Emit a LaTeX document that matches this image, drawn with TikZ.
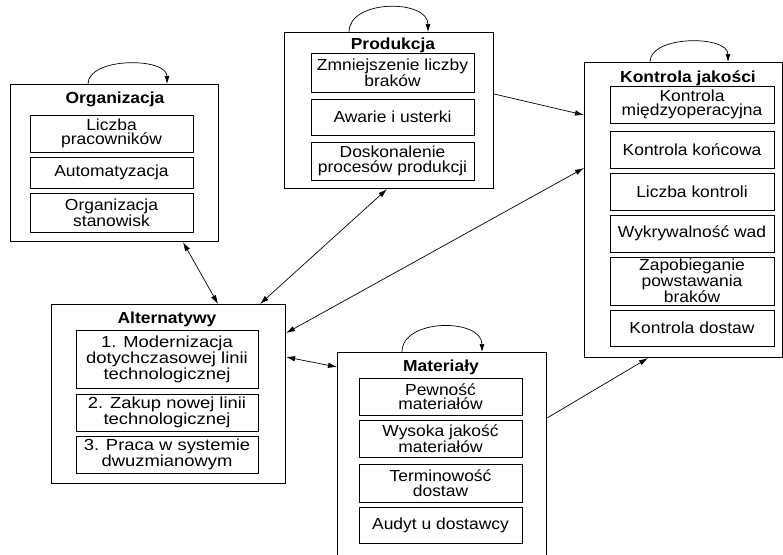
\documentclass[tikz,border=0pt]{standalone}
\usepackage{fontspec}
\setmainfont{Liberation Sans}[FakeStretch=1.09]
\newfontfamily\widesans{Liberation Sans}[FakeStretch=1.15]
\usetikzlibrary{arrows.meta}
\begin{document}
\begin{tikzpicture}[x=1pt,y=-1pt,
  txt/.style={font=\fontsize{16pt}{14.6pt}\selectfont},
  outerbox/.style={draw=black,line width=1.1pt,anchor=north west,inner sep=0pt},
  itembox/.style={draw=black,line width=0.8pt,inner sep=0pt,align=center,txt},
  altitem/.style={itembox,font=\widesans\fontsize{16pt}{14.6pt}\selectfont},
  titletext/.style={anchor=base,inner sep=0pt,font=\fontsize{16pt}{14.6pt}\selectfont\bfseries},
  conn/.style={line width=0.7pt,-{Latex[length=9pt,width=5.5pt]}},
  connboth/.style={line width=0.7pt,{Latex[length=9pt,width=5.5pt]}-{Latex[length=9pt,width=5.5pt]}},
  loopline/.style={line width=0.7pt,-{Latex[length=8pt,width=5pt]}}]
\useasboundingbox (0,0) rectangle (783,554);

% ---------- Organizacja ----------
\node[outerbox,minimum width=208pt,minimum height=157pt] (org) at (10,84) {};
\node[titletext] (orgt) at (115,103) {Organizacja};
\node[itembox,minimum width=163pt,minimum height=37pt] (o1) at (111.5,133.5) {Liczba\\pracowników};
\node[itembox,minimum width=163pt,minimum height=31pt] (o2) at (111.5,172.5) {Automatyzacja};
\node[itembox,minimum width=163pt,minimum height=39pt] (o3) at (111.5,212.5) {Organizacja\\stanowisk};

% ---------- Produkcja ----------
\node[outerbox,minimum width=209pt,minimum height=156pt] (prod) at (284,32) {};
\node[titletext] (prodt) at (393,49) {Produkcja};
\node[itembox,minimum width=163pt,minimum height=39pt] (p1) at (392.5,72.5) {Zmniejszenie liczby\\braków};
\node[itembox,minimum width=163pt,minimum height=36pt] (p2) at (392.5,117) {Awarie i usterki};
\node[itembox,minimum width=163pt,minimum height=38pt] (p3) at (392.5,161) {Doskonalenie\\procesów produkcji};

% ---------- Kontrola jakosci ----------
\node[outerbox,minimum width=198pt,minimum height=295pt] (kon) at (584,62) {};
\node[titletext] (kont) at (688,82) {Kontrola jakości};
\node[itembox,minimum width=164pt,minimum height=37pt] (k1) at (692,104.5) {Kontrola\\międzyoperacyjna};
\node[itembox,minimum width=164pt,minimum height=37pt] (k2) at (692,149.5) {Kontrola końcowa};
\node[itembox,minimum width=164pt,minimum height=37pt] (k3) at (692,191.5) {Liczba kontroli};
\node[itembox,minimum width=164pt,minimum height=37pt] (k4) at (692,233.5) {Wykrywalność wad};
\node[itembox,minimum width=164pt,minimum height=48pt] (k5) at (692,281) {Zapobieganie\\powstawania\\braków};
\node[itembox,minimum width=164pt,minimum height=36pt] (k6) at (692,328) {Kontrola dostaw};

% ---------- Alternatywy ----------
\node[outerbox,minimum width=234pt,minimum height=179pt] (alt) at (51,304) {};
\node[titletext] (altt) at (167,323) {Alternatywy};
\node[altitem,minimum width=182pt,minimum height=58pt] (a1) at (167,359) {1. Modernizacja\\dotychczasowej linii\\technologicznej};
\node[altitem,minimum width=182pt,minimum height=37pt] (a2) at (167,412.5) {2. Zakup nowej linii\\technologicznej};
\node[altitem,minimum width=182pt,minimum height=37pt] (a3) at (167,454.5) {3. Praca w systemie\\dwuzmianowym};

% ---------- Materialy ----------
\node[outerbox,minimum width=209pt,minimum height=220pt] (mat) at (337,352) {};
\node[titletext] (matt) at (441,371) {Materiały};
\node[itembox,minimum width=163pt,minimum height=37pt] (m1) at (440.5,396.5) {Pewność\\materiałów};
\node[itembox,minimum width=163pt,minimum height=37pt] (m2) at (440.5,438.5) {Wysoka jakość\\materiałów};
\node[itembox,minimum width=163pt,minimum height=38pt] (m3) at (440.5,483) {Terminowość\\dostaw};
\node[itembox,minimum width=163pt,minimum height=36pt] (m4) at (440.5,525) {Audyt u dostawcy};

% ---------- self loops ----------
\coordinate (orgL) at (org.north -| 88,0);
\coordinate (orgR) at (org.north -| 167,0);
\draw[loopline] (orgL) .. controls (88,57) and (167,57) .. (orgR);
\coordinate (prodL) at (prod.north -| 349,0);
\coordinate (prodR) at (prod.north -| 428,0);
\draw[loopline] (prodL) .. controls (349,-1) and (428,-1) .. (prodR);
\coordinate (konL) at (kon.north -| 650,0);
\coordinate (konR) at (kon.north -| 728,0);
\draw[loopline] (konL) .. controls (650,35) and (728,35) .. (konR);
\coordinate (matL) at (mat.north -| 402,0);
\coordinate (matR) at (mat.north -| 482,0);
\draw[loopline] (matL) .. controls (402,318) and (482,318) .. (matR);

% ---------- connectors ----------
\draw[connboth] (org.south -| 183,0) -- (alt.north -| 218,0);
\draw[connboth] (prod.south -| 387,0) -- (alt.north -| 260,0);
\draw[connboth] (kon.west |- 0,168) -- (alt.east |- 0,333);
\draw[conn] (prod.east |- 0,94) -- (kon.west |- 0,115);
\draw[connboth] (mat.west |- 0,367) -- (alt.east |- 0,357);
\draw[conn] (mat.east |- 0,418) -- (kon.south -| 648,0);
\end{tikzpicture}
\end{document}
